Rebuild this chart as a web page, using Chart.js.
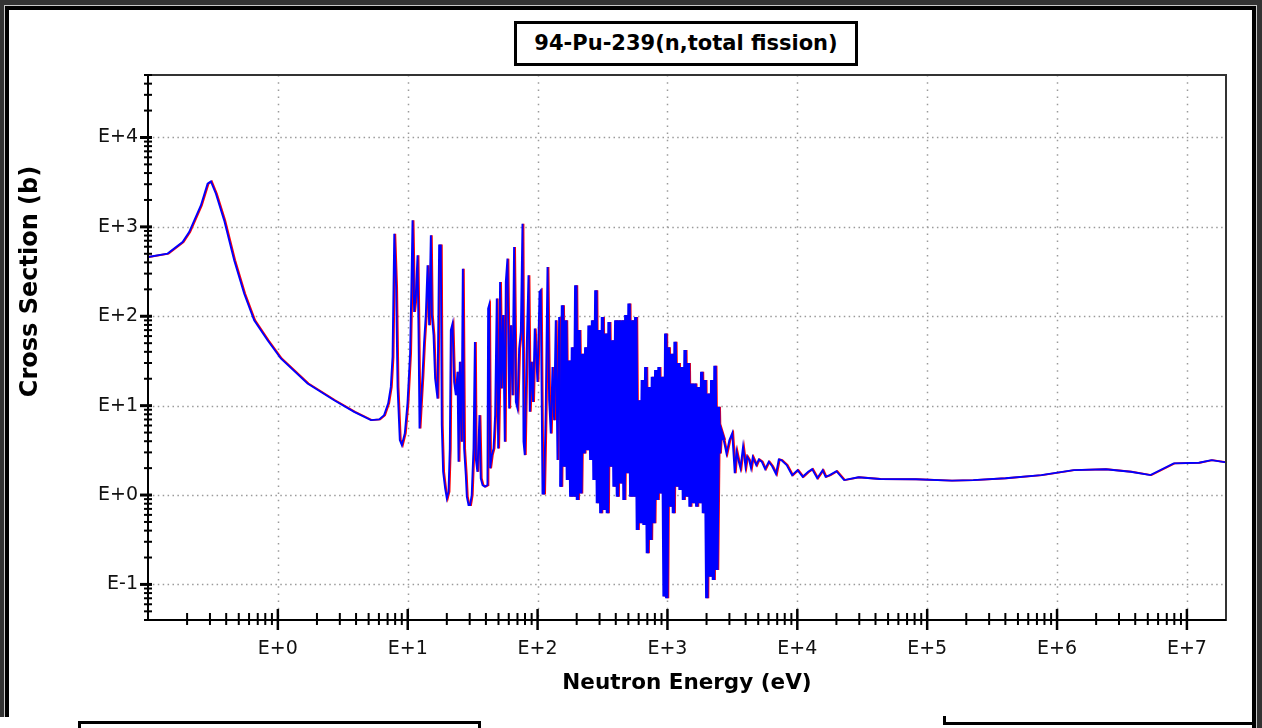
<!DOCTYPE html>
<html>
<head>
<meta charset="utf-8">
<script src="https://cdn.jsdelivr.net/npm/chart.js@4.4.1/dist/chart.umd.min.js"></script>
<style>
  html, body { margin: 0; padding: 0; background: #333; overflow: hidden; }
  #wrap { position: absolute; left: 0; top: 0; width: 1262px; height: 728px; }
  .panel { position: absolute; left: 5px; top: 6px; width: 1243px; height: 760px; background: #fff; border: 4px solid #000; box-shadow: 0 0 0 1px #c8c8c8; }
  .strip { position: absolute; left: 0; top: 717px; width: 944px; height: 11px; background: #fff; }
  .boxLeft { position: absolute; left: 78px; top: 721px; width: 397px; height: 20px; border: 3px solid #000; background: #fff; }
  .lineV { position: absolute; left: 943px; top: 716px; width: 3px; height: 9px; background: #000; }
  .lineH { position: absolute; left: 943px; top: 722px; width: 310px; height: 3px; background: #000; }
  #chartBox { position: absolute; left: 0; top: 0; width: 1262px; height: 728px; }
  .title { position: absolute; left: 514px; top: 21px; width: 338px; height: 39px; border: 3px solid #000; background: #fff;
           font: bold 21px "DejaVu Sans"; line-height: 39px; text-align: center; color: #000; z-index: 2; }
</style>
</head>
<body>
<div id="wrap">
  <div class="panel"></div>
  <div class="strip"></div>
  <div class="boxLeft"></div>
  <div class="lineV"></div>
  <div class="lineH"></div>
  <div id="chartBox"><canvas id="chartXs"></canvas></div>
  <div class="title" id="titulo"></div>
</div>
<script>
var titleText = '94-Pu-239(n,total fission)',
    xTitle = 'Neutron Energy (eV)',
    yTitle = 'Cross Section (b)';

var xMin = 0.1, xMax = 2e7,
    yMin = 0.04, yMax = 5e4;

var xTickValues = [1, 10, 100, 1e3, 1e4, 1e5, 1e6, 1e7],
    xTickLabels = ['E+0', 'E+1', 'E+2', 'E+3', 'E+4', 'E+5', 'E+6', 'E+7'],
    yTickValues = [0.1, 1, 10, 100, 1e3, 1e4],
    yTickLabels = ['E-1', 'E+0', 'E+1', 'E+2', 'E+3', 'E+4'];

// energia (eV)
var energyEv = [
  0.1, 0.1416, 0.1846, 0.2075, 0.2553, 0.2877, 0.3049, 0.3334, 0.386, 0.461,
  0.550, 0.657, 0.833, 1.054, 1.693, 2.713, 3.866, 5.20, 6.03, 6.58,
  7.07, 7.41, 7.64, 7.78, 7.88, 8.14, 8.35, 8.69, 9.01, 9.50,
  9.96, 10.43, 10.66, 10.89, 11.20, 11.54, 11.90, 12.11, 12.33, 12.61,
  13.00, 13.37, 13.78, 14.21, 14.62, 15.06, 15.33, 15.80, 16.25, 16.96,
  17.45, 17.98, 18.29, 18.73, 19.41, 20.0, 20.61, 21.09, 21.47, 22.13,
  22.77, 23.46, 24.17, 24.61, 25.19, 25.96, 26.56, 27.18, 28.0, 28.51,
  29.38, 30.2, 31.1, 32.1, 32.9, 33.4, 34.4, 35.7, 36.5, 37.7,
  39.2, 41.1, 41.6, 42.3, 43.1, 44.4, 45.8, 47.1, 48.5, 49.7,
  50.6, 51.4, 52.7, 54.2, 55.9, 56.9, 58.6, 60.4, 62.2, 64.1,
  65.9, 68.0, 70.0, 72.1, 74.3, 76.5, 77.9, 79.7, 82.2, 85.1,
  87.1, 89.8, 92.3, 95.1, 99.8, 103.5, 105.8, 109.1, 112.2, 115.6,
  119.2, 122.7, 126.4, 130.2, 134, 138, 142.3, 146.5, 151, 155.5,
  160, 164.8, 169.8, 174.9, 180.2, 185.6, 191, 196.8, 202.8, 208.6,
  215.2, 221.7, 228, 235, 242, 249, 257, 265, 272, 281,
  289, 297, 307, 316, 325, 335, 345, 355, 366, 378,
  388, 400, 412, 424, 437, 451, 463, 478, 492, 506,
  522, 538, 553, 570, 587, 604, 623, 641, 660, 681,
  701, 721, 743, 766, 788, 813, 837, 861, 888, 916,
  942, 970, 988, 1018, 1047, 1079, 1112, 1145, 1180, 1216,
  1250, 1288, 1328, 1367, 1409, 1452, 1493, 1538, 1585, 1631,
  1682, 1733, 1783, 1837, 1893, 1947, 2009, 2070, 2128, 2193,
  2259, 2323, 2399, 2472, 2512, 2570, 2712, 2850, 3000, 3155, 3297,
  3400, 3515, 3650, 3820, 3992, 4100, 4256, 4400, 4539, 4830, 5050, 5321, 5650, 6026, 6400, 6855, 7200, 7530,
  8280, 9120, 1.004e4, 1.1e4, 1.213e4, 1.3e4, 1.423e4, 1.567e4, 1.65e4, 1.775e4, 2.0e4, 2.291e4, 2.951e4, 4.325e4,
  8.147e4, 1.542e5, 2.255e5, 4.0e5, 7.55e5, 1.337e6, 2.366e6, 3.69e6, 5.236e6, 7.907e6,
  1.236e7, 1.545e7, 2.0e7
];

// seccion eficaz (b), curva azul; desde ~150 eV se alterna borde superior / inferior de la franja
var sigmaBlue = [
  460, 502, 676, 875, 1738, 3040, 3222, 2350, 1183, 423,
  179.5, 90.2, 53.9, 33.7, 17.7, 11.5, 8.53, 6.89, 7.01, 7.83,
  10.6, 16.2, 35.1, 232, 839, 212, 16.2, 4.12, 3.62, 4.93,
  10.7, 38.6, 195, 1183, 112, 172, 480, 66.8, 5.56, 10.1,
  21.9, 51.6, 103, 371, 79.3, 804, 103, 61.4, 20.1, 12.0,
  621, 621, 6.05, 1.82, 1.19, 0.919, 1.09, 3.32, 69.8, 82.9,
  18.4, 13.1, 23.9, 2.36, 30.9, 3.94, 341, 3.32, 1.67, 0.957,
  0.773, 0.773, 1.0, 3.32, 51.6, 2.57, 1.82, 7.83, 1.54, 1.29,
  1.24, 1.29, 122, 133, 1.99, 2.80, 3.32, 7.83, 158, 3.32,
  14.3, 242, 15.6, 103, 3.94, 242, 441, 9.31, 79.3, 13.1,
  595, 11.0, 9.31, 43.6, 66.8, 1086, 3.94, 2.80, 36.7, 287,
  8.53, 30.9, 11.0, 72.9, 18.4, 187, 195, 1.04, 1.04, 9.70,
  356, 11.5, 4.89, 27.1, 6.89, 90.2, 2.46, 98, 1.24, 133,
  2.07, 90, 1.47, 32, 0.957, 45, 0.957, 222, 0.879, 70,
  1.04, 38, 2.92, 45, 3.18, 79, 2.46, 90, 1.47, 195,
  0.81, 70, 0.625, 98, 0.68, 64, 0.625, 86, 2.07, 54,
  1.24, 90, 0.957, 90, 1.35, 90, 0.879, 103, 1.75, 139,
  0.957, 90, 0.957, 98, 0.406, 11.5, 0.483, 19.3, 0.462, 27,
  0.223, 16.2, 0.314, 21, 0.483, 25, 0.879, 27, 1.04, 21,
  0.0731, 64, 0.070, 45, 0.74, 38, 0.625, 52, 1.24, 30,
  1.14, 27, 0.879, 42, 0.957, 30, 0.74, 17.7, 0.81, 17.7,
  0.74, 16.2, 0.81, 24, 0.625, 19.3, 0.070, 13.7, 0.122, 19.3,
  0.112, 28, 0.145, 9.7, 2.92, 5.32, 4.12, 2.9, 4.12, 4.93, 1.76,
  3.1, 2.46, 2.0, 3.47, 2.07, 2.7, 2.46, 2.0, 2.66, 2.16, 2.5, 2.36, 1.95, 2.36, 2.1, 1.72, 2.5, 2.46,
  2.16, 1.67, 1.90, 1.6, 1.82, 1.95, 1.54, 1.90, 1.6, 1.67, 1.85, 1.47, 1.58, 1.51,
  1.50, 1.45, 1.47, 1.54, 1.67, 1.90, 1.94, 1.82, 1.67, 2.26,
  2.30, 2.46, 2.32
];

// la curva roja coincide con la azul a esta escala, solo asoma un poco a la derecha
var sigmaRed = sigmaBlue,
    redShift = 0.983;

var puntosAzul = energyEv.map(function (e, i) { return { x: e, y: sigmaBlue[i] }; });
var puntosRojo = energyEv.map(function (e, i) { return { x: e, y: sigmaRed[i] }; });

document.getElementById('titulo').textContent = titleText;

var tickFont = { family: 'DejaVu Sans', size: 19 };

// zona de resonancias densas: trazo mas grueso para que se vea maciza
function anchoTramo(base, denso) {
    return function (c) {
        var e = c.p0.parsed.x;
        return (e > 150 && e < 2600) ? denso : base;
    };
}

// grilla punteada, marco, marcas de los ejes y titulo vertical
var decoEjes = {
    id: 'decoEjes',
    beforeDatasetsDraw: function (chart) {
        var ctx = chart.ctx, a = chart.chartArea, sx = chart.scales.x, sy = chart.scales.y;
        ctx.save();
        ctx.strokeStyle = '#9a9a9a';
        ctx.lineWidth = 1.5;
        ctx.setLineDash([1.5, 5.7]);
        xTickValues.forEach(function (v) {
            var px = Math.round(sx.getPixelForValue(v)) + 0.5;
            ctx.beginPath(); ctx.moveTo(px, a.top); ctx.lineTo(px, a.bottom); ctx.stroke();
        });
        ctx.setLineDash([1.5, 3.4]);
        yTickValues.forEach(function (v) {
            var py = Math.round(sy.getPixelForValue(v)) + 0.5;
            ctx.beginPath(); ctx.moveTo(a.left, py); ctx.lineTo(a.right, py); ctx.stroke();
        });
        ctx.restore();
    },
    afterDatasetsDraw: function (chart) {
        var ctx = chart.ctx, a = chart.chartArea, sx = chart.scales.x, sy = chart.scales.y;
        ctx.save();
        ctx.setLineDash([]);
        ctx.strokeStyle = '#333';
        ctx.lineWidth = 2;
        ctx.strokeRect(a.left, a.top, a.right - a.left, a.bottom - a.top);
        ctx.strokeStyle = '#000';
        ctx.beginPath();
        ctx.moveTo(a.left, a.top); ctx.lineTo(a.left, a.bottom); ctx.lineTo(a.right, a.bottom);
        ctx.stroke();

        // marcas en x
        for (var k = -1; k <= 7; k++) {
            for (var m = 1; m <= 9; m++) {
                var v = m * Math.pow(10, k);
                if (v <= xMin || v >= xMax) continue;
                var px = sx.getPixelForValue(v);
                ctx.lineWidth = m === 1 ? 2.5 : 2;
                ctx.beginPath();
                if (m === 1) { ctx.moveTo(px, a.bottom - 11); ctx.lineTo(px, a.bottom + 10); }
                else { ctx.moveTo(px, a.bottom - 7); ctx.lineTo(px, a.bottom + 5); }
                ctx.stroke();
            }
        }
        // marcas en y
        for (var j = -2; j <= 4; j++) {
            for (var n = 1; n <= 9; n++) {
                var w = n * Math.pow(10, j);
                if (w < yMin || w > yMax) continue;
                var py = sy.getPixelForValue(w);
                ctx.lineWidth = n === 1 ? 3 : 2;
                ctx.beginPath();
                if (n === 1) { ctx.moveTo(a.left - 8, py); ctx.lineTo(a.left + 4, py); }
                else { ctx.moveTo(a.left - 4, py); ctx.lineTo(a.left + 4, py); }
                ctx.stroke();
            }
        }
        ctx.restore();
    },
    afterDraw: function (chart) {
        var ctx = chart.ctx;
        ctx.save();
        ctx.translate(36.5, 281.5);
        ctx.rotate(-Math.PI / 2);
        ctx.font = 'bold 24px "DejaVu Sans"';
        ctx.fillStyle = '#000';
        ctx.textAlign = 'center';
        ctx.textBaseline = 'alphabetic';
        ctx.fillText(yTitle, 0, 0);
        ctx.restore();
    }
};

var graficoXs = new Chart(document.getElementById('chartXs'), {
    type: 'line',
    data: {
        datasets: [
            {
                label: 'azul',
                data: puntosAzul,
                borderColor: 'rgb(0, 0, 255)',
                borderWidth: 1.9,
                pointRadius: 0,
                tension: 0,
                xAxisID: 'x',
                order: 0,
                segment: { borderWidth: anchoTramo(1.9, 3.4) }
            },
            {
                label: 'rojo',
                data: puntosRojo,
                borderColor: 'rgb(255, 0, 0)',
                borderWidth: 1.9,
                pointRadius: 0,
                tension: 0,
                xAxisID: 'xRed',
                order: 1,
                segment: { borderWidth: anchoTramo(1.9, 3) }
            }
        ]
    },
    options: {
        animation: false,
        responsive: true,
        maintainAspectRatio: false,
        layout: { padding: { left: 0, top: 75, right: 36, bottom: 0 } },
        plugins: {
            legend: { display: false },
            tooltip: { enabled: false }
        },
        scales: {
            x: {
                type: 'logarithmic',
                position: 'bottom',
                min: xMin,
                max: xMax,
                grid: { display: false, drawTicks: false },
                border: { display: false },
                afterBuildTicks: function (s) { s.ticks = xTickValues.map(function (v) { return { value: v }; }); },
                afterFit: function (s) { s.height = 108; },
                ticks: {
                    autoSkip: false,
                    maxRotation: 0,
                    padding: 18,
                    color: '#111',
                    font: tickFont,
                    callback: function (v, i) { return xTickLabels[i]; }
                },
                title: {
                    display: true,
                    text: xTitle,
                    color: '#000',
                    font: { family: 'DejaVu Sans', size: 21.5, weight: 'bold' },
                    padding: { top: 0, bottom: 32 }
                }
            },
            xRed: {
                type: 'logarithmic',
                position: 'bottom',
                display: false,
                min: xMin * redShift,
                max: xMax * redShift
            },
            y: {
                type: 'logarithmic',
                position: 'left',
                min: yMin,
                max: yMax,
                grid: { display: false, drawTicks: false },
                border: { display: false },
                afterBuildTicks: function (s) { s.ticks = yTickValues.map(function (v) { return { value: v }; }); },
                afterFit: function (s) { s.width = 148; },
                ticks: {
                    autoSkip: false,
                    padding: 10,
                    color: '#111',
                    font: tickFont,
                    callback: function (v, i) { return yTickLabels[i]; }
                }
            }
        }
    },
    plugins: [decoEjes]
});
</script>
</body>
</html>
